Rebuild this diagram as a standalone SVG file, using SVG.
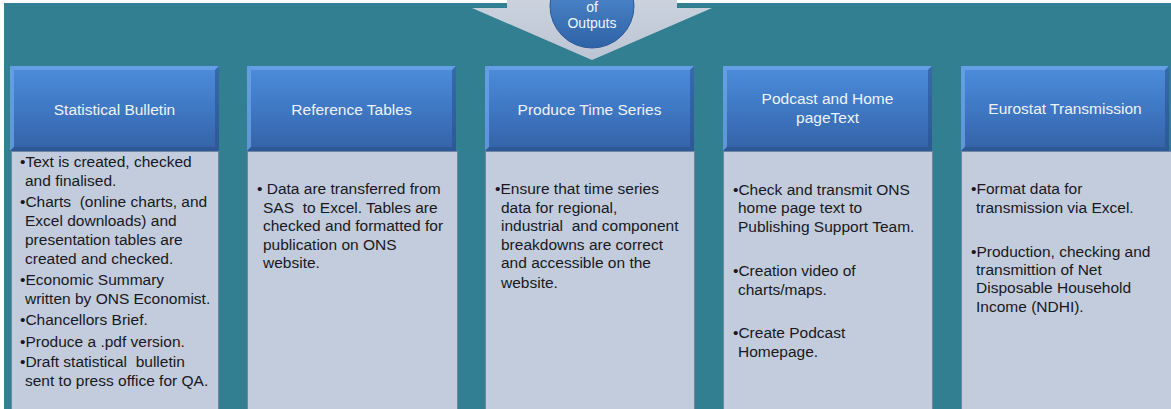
<svg xmlns="http://www.w3.org/2000/svg" width="1171" height="409" viewBox="0 0 1171 409">
<defs>
<linearGradient id="hdr" x1="0" y1="0" x2="0" y2="1">
<stop offset="0" stop-color="#4C8DDA"/>
<stop offset="0.5" stop-color="#3F78C4"/>
<stop offset="1" stop-color="#3562A6"/>
</linearGradient>
<linearGradient id="circ" x1="0" y1="0" x2="0" y2="1">
<stop offset="0" stop-color="#5A96DA"/>
<stop offset="1" stop-color="#2E62A6"/>
</linearGradient>
<linearGradient id="arw" x1="0" y1="0" x2="0" y2="1">
<stop offset="0" stop-color="#CBD2DE"/>
<stop offset="1" stop-color="#BCC5D4"/>
</linearGradient>
</defs>
<style>
.bg{fill:#317F91}
.hdr{fill:url(#hdr)}
.bevL{fill:#6AA2E6;opacity:0.8}
.bevD{fill:#2A528C;opacity:0.6}
.body{fill:#C2CCDC;stroke:#6F86A3;stroke-width:1}
.ht{font-family:"Liberation Sans",Arial,sans-serif;font-size:15.5px;fill:#EEF3FA;text-anchor:middle}
.bt{font-family:"Liberation Sans",Arial,sans-serif;font-size:15.5px;fill:#18181E;white-space:pre}
.ct{font-family:"Liberation Sans",Arial,sans-serif;font-size:14px;fill:#F2F5FA;text-anchor:middle}
</style>
<rect x="0" y="0" width="1171" height="409" fill="#FFFFFF"/>
<rect class="bg" x="4" y="3" width="1167" height="406"/>

<g id="arrow">
<polygon points="507,0 677,0 677,8 712,8 592,60 472,8 507,8" fill="url(#arw)"/>
</g>
<g id="outputs">
<circle cx="592" cy="6" r="42" fill="url(#circ)" stroke="#2B5A96" stroke-width="1"/>
<text class="ct" x="592" y="12">of</text>
<text class="ct" x="592" y="28">Outputs</text>
</g>

<g id="statistical-bulletin">
<rect class="hdr" x="10" y="66" width="209" height="85"/>
<polygon class="bevL" points="10,66 219,66 215,70 14,70"/>
<polygon class="bevL" points="10,66 14,70 14,147 10,151"/>
<polygon class="bevD" points="219,66 219,151 215,147 215,70"/>
<polygon class="bevD" points="10,151 219,151 215,147 14,147"/>
<text class="ht" x="114.5" y="115">Statistical Bulletin</text>
<rect class="body" x="11.5" y="151.5" width="207" height="262"/>
<text class="bt"><tspan x="20" y="167">•Text is created, checked</tspan><tspan x="25" y="186">and finalised.</tspan><tspan x="20" y="207">•Charts  (online charts, and</tspan><tspan x="25" y="226">Excel downloads) and</tspan><tspan x="25" y="245">presentation tables are</tspan><tspan x="25" y="264">created and checked.</tspan><tspan x="20" y="285">•Economic Summary</tspan><tspan x="25" y="304">written by ONS Economist.</tspan><tspan x="20" y="325">•Chancellors Brief.</tspan><tspan x="20" y="347">•Produce a .pdf version.</tspan><tspan x="20" y="367">•Draft statistical  bulletin</tspan><tspan x="25" y="386">sent to press office for QA.</tspan></text>
</g>

<g id="reference-tables">
<rect class="hdr" x="247" y="66" width="209" height="85"/>
<polygon class="bevL" points="247,66 456,66 452,70 251,70"/>
<polygon class="bevL" points="247,66 251,70 251,147 247,151"/>
<polygon class="bevD" points="456,66 456,151 452,147 452,70"/>
<polygon class="bevD" points="247,151 456,151 452,147 251,147"/>
<text class="ht" x="351.5" y="115">Reference Tables</text>
<rect class="body" x="247.5" y="151.5" width="210" height="262"/>
<text class="bt"><tspan x="257" y="194">• Data are transferred from</tspan><tspan x="263" y="213">SAS  to Excel. Tables are</tspan><tspan x="263" y="231">checked and formatted for</tspan><tspan x="263" y="250">publication on ONS</tspan><tspan x="263" y="268">website.</tspan></text>
</g>

<g id="produce-time-series">
<rect class="hdr" x="485" y="66" width="209" height="85"/>
<polygon class="bevL" points="485,66 694,66 690,70 489,70"/>
<polygon class="bevL" points="485,66 489,70 489,147 485,151"/>
<polygon class="bevD" points="694,66 694,151 690,147 690,70"/>
<polygon class="bevD" points="485,151 694,151 690,147 489,147"/>
<text class="ht" x="589.5" y="115">Produce Time Series</text>
<rect class="body" x="485.5" y="151.5" width="209" height="262"/>
<text class="bt"><tspan x="495" y="194">•Ensure that time series</tspan><tspan x="501" y="213">data for regional,</tspan><tspan x="501" y="231">industrial  and component</tspan><tspan x="501" y="250">breakdowns are correct</tspan><tspan x="501" y="268">and accessible on the</tspan><tspan x="501" y="288">website.</tspan></text>
</g>

<g id="podcast-home-page">
<rect class="hdr" x="723" y="66" width="209" height="85"/>
<polygon class="bevL" points="723,66 932,66 928,70 727,70"/>
<polygon class="bevL" points="723,66 727,70 727,147 723,151"/>
<polygon class="bevD" points="932,66 932,151 928,147 928,70"/>
<polygon class="bevD" points="723,151 932,151 928,147 727,147"/>
<text class="ht" x="827.5" y="104">Podcast and Home</text>
<text class="ht" x="827.5" y="123">pageText</text>
<rect class="body" x="723.5" y="151.5" width="209" height="262"/>
<text class="bt"><tspan x="733" y="195">•Check and transmit ONS</tspan><tspan x="738" y="213">home page text to</tspan><tspan x="738" y="232">Publishing Support Team.</tspan><tspan x="733" y="276">•Creation video of</tspan><tspan x="738" y="295">charts/maps.</tspan><tspan x="733" y="338">•Create Podcast</tspan><tspan x="738" y="357">Homepage.</tspan></text>
</g>

<g id="eurostat-transmission">
<rect class="hdr" x="961" y="66" width="208" height="85"/>
<polygon class="bevL" points="961,66 1169,66 1165,70 965,70"/>
<polygon class="bevL" points="961,66 965,70 965,147 961,151"/>
<polygon class="bevD" points="1169,66 1169,151 1165,147 1165,70"/>
<polygon class="bevD" points="961,151 1169,151 1165,147 965,147"/>
<text class="ht" x="1065" y="114">Eurostat Transmission</text>
<rect class="body" x="961.5" y="151.5" width="210" height="262"/>
<text class="bt"><tspan x="971" y="194">•Format data for</tspan><tspan x="976" y="213">transmission via Excel.</tspan><tspan x="971" y="257">•Production, checking and</tspan><tspan x="976" y="275">transmittion of Net</tspan><tspan x="976" y="293">Disposable Household</tspan><tspan x="976" y="312">Income (NDHI).</tspan></text>
</g>

<g id="connectors"></g>
</svg>
